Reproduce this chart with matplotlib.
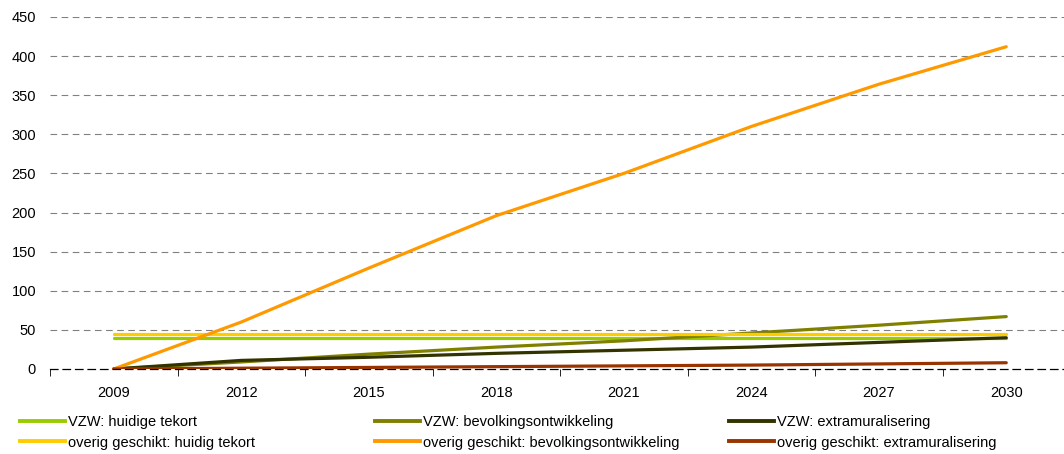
import numpy as np
import matplotlib.pyplot as plt
from matplotlib.lines import Line2D

plt.rcParams['font.family'] = ['Liberation Sans', 'DejaVu Sans']

years = ['2009', '2012', '2015', '2018', '2021', '2024', '2027', '2030']

# values
vzw_tekort = [39, 39, 39, 39, 39, 39, 39, 39]
vzw_bevolking = [0, 9, 19, 28, 36, 46, 56, 67]
vzw_extra = [0, 11, 15, 20, 24, 28, 34, 40]
overig_tekort = [45, 45, 45, 45, 45, 45, 45, 45]
overig_bevolking = [0, 60, 129, 196, 250, 310, 364, 412]
overig_extra = [0, 1, 2, 3, 4, 5, 6.5, 8]

series = [
    ('VZW: huidige tekort', vzw_tekort, '#99CC00'),
    ('VZW: bevolkingsontwikkeling', vzw_bevolking, '#808000'),
    ('VZW: extramuralisering', vzw_extra, '#333300'),
    ('overig geschikt: huidig tekort', overig_tekort, '#FFCC00'),
    ('overig geschikt: bevolkingsontwikkeling', overig_bevolking, '#FF9900'),
    ('overig geschikt: extramuralisering', overig_extra, '#993300'),
]

fig = plt.figure(figsize=(10.64, 4.54), dpi=100)
ax = fig.add_axes([50 / 1064, 85 / 454, 1020 / 1064, 352 / 454])

x = np.arange(len(years))
for label, vals, col in series:
    ax.plot(x, vals, color=col, lw=2.3, label=label, solid_capstyle='round', zorder=3)

ax.set_xlim(-0.5, 7.5)
ax.set_ylim(0, 450)
ax.set_yticks(np.arange(0, 451, 50))
ax.set_xticks(x)
ax.set_xticklabels(years)
ax.set_xticks(np.arange(-0.5, 7.5, 1), minor=True)
ax.tick_params(axis='x', which='major', length=0, pad=12, labelsize=10.5)
ax.tick_params(axis='x', which='minor', length=5, direction='out', color='black')
ax.tick_params(axis='y', length=0, pad=10, labelsize=10.5)

for v in range(50, 451, 50):
    ax.axhline(v, color='#808080', lw=0.8, ls=(0, (6, 4)), zorder=1)

for s in ['top', 'right', 'left']:
    ax.spines[s].set_visible(False)
ax.spines['bottom'].set_linestyle((0, (6, 4)))
ax.spines['bottom'].set_linewidth(0.9)

# legend in three columns, two rows each
cols = [(series[0], series[3]), (series[1], series[4]), (series[2], series[5])]
xpos = [20, 375, 729]
for (a, b), xp in zip(cols, xpos):
    handles = [Line2D([], [], color=a[2], lw=2.8), Line2D([], [], color=b[2], lw=2.8)]
    fig.legend(handles, [a[0], b[0]], loc='upper left',
               bbox_to_anchor=(xp / 1064, 1 - 415 / 454), frameon=False,
               fontsize=10.5, handlelength=3.1, handletextpad=0.2,
               labelspacing=0.45, borderaxespad=0, borderpad=0)

fig.savefig('out.png', dpi=100)
